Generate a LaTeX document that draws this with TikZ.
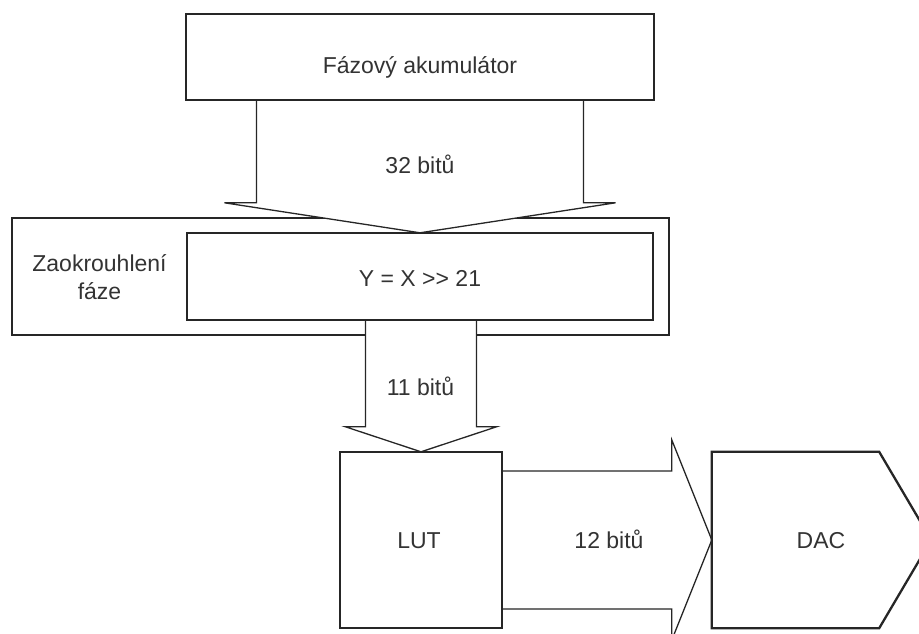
\documentclass[tikz,border=0pt]{standalone}
\usepackage{fontspec}
\setmainfont{Liberation Sans}
\usetikzlibrary{calc}
\begin{document}
\begin{tikzpicture}[x=1pt,y=-1pt,
  lbl/.style={font=\fontsize{23}{27.6}\selectfont, text=black!80, inner sep=0pt, anchor=base},
  area/.style={draw=none, inner sep=0pt, minimum width=#1},
  boxline/.style={draw=black!85, line width=2.3pt, line join=miter},
  flow/.style={draw=black!85, line width=1.3pt, fill=white, line join=miter},
]
\useasboundingbox (0,0) rectangle (919,634);

% block areas (outlines are drawn further down)
\node[area=468pt, minimum height=86pt]  (acc)   at (420,57)    {};
\node[area=657pt, minimum height=117pt] (round) at (340.5,276.5) {};
\node[area=466pt, minimum height=87pt]  (shift) at (420,276.5) {};
\node[area=162pt, minimum height=176pt] (lut)   at (421,540)   {};
\node[area=219pt, minimum height=176pt] (dac)   at (821.5,540) {};

% block texts
\node[lbl] (accText)   at (420,74)   {Fázový akumulátor};
\node[lbl] (roundTxtA) at (99.5,271) {Zaokrouhlení};
\node[lbl] (roundTxtB) at (99.5,299) {fáze};
\node[lbl] (shiftText) at (420,286)  {Y = X \mbox{>}\mbox{>} 21};
\node[lbl] (lutText)   at (419,548)  {LUT};
\node[lbl] (dacText)   at (821,548)  {DAC};

% outer frame of the rounding stage
\draw[boxline] (round.north west) rectangle (round.south east);

% wide arrows carrying the bus widths
\draw[flow] let \p1=(acc.south), \p2=(shift.north) in
  (\x2-163.5pt,\y1) -- (\x2-163.5pt,\y2+30pt) -- (\x2-195.5pt,\y2+30pt)
  -- (\x2,\y2) -- (\x2+195.5pt,\y2+30pt) -- (\x2+163.5pt,\y2+30pt)
  -- (\x2+163.5pt,\y1) -- cycle;
\draw[flow] let \p1=(shift.south), \p2=(lut.north) in
  (\x2-55.5pt,\y1) -- (\x2-55.5pt,\y2+25pt) -- (\x2-75.5pt,\y2+25pt)
  -- (\x2,\y2) -- (\x2+75.5pt,\y2+25pt) -- (\x2+55.5pt,\y2+25pt)
  -- (\x2+55.5pt,\y1) -- cycle;
\draw[flow] let \p1=(lut.east), \p2=(dac.west) in
  (\x1,\y2+69pt) -- (\x2-40pt,\y2+69pt) -- (\x2-40pt,\y2+100pt)
  -- (\x2,\y2) -- (\x2-40pt,\y2-100pt) -- (\x2-40pt,\y2-69pt)
  -- (\x1,\y2-69pt) -- cycle;

% arrow labels
\node[lbl] (bits32) at (420,173) {32 bitů};
\node[lbl] (bits11) at (420.5,395) {11 bitů};
\node[lbl] (bits12) at (609,548) {12 bitů};

% block outlines
\draw[boxline] (acc.north west) rectangle (acc.south east);
\draw[boxline] (shift.north west) rectangle (shift.south east);
\draw[boxline] (lut.north west) rectangle (lut.south east);
\draw[boxline] (dac.north west) -- ($(dac.north east)+(-52pt,0pt)$) -- (dac.east)
  -- ($(dac.south east)+(-52pt,0pt)$) -- (dac.south west) -- cycle;
\end{tikzpicture}
\end{document}
